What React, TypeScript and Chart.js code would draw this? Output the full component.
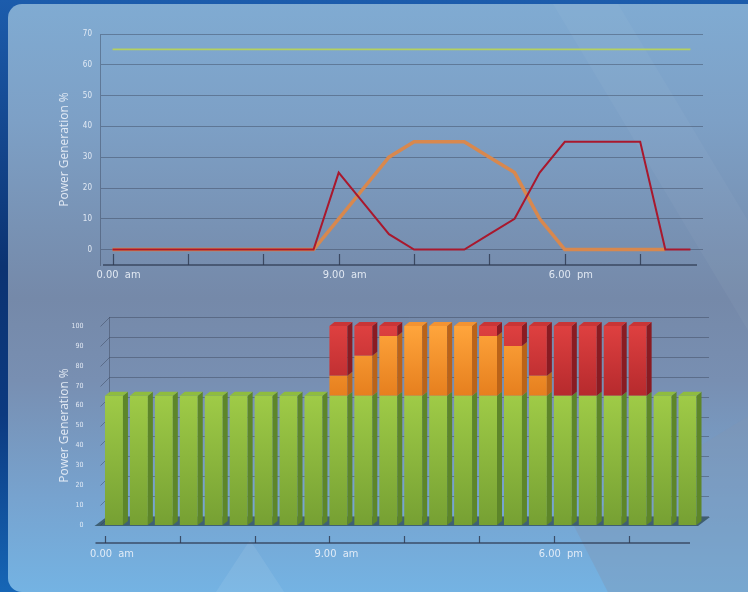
import React, { useEffect, useRef } from "react";
import { Chart, registerables } from "chart.js";

Chart.register(...registerables);

// ---------- data ----------
const hours = [0, 1, 2, 3, 4, 5, 6, 7, 8, 9, 10, 11, 12, 13, 14, 15, 16, 17, 18, 19, 20, 21, 22, 23];
const axisTickHours = [0, 3, 6, 9, 12, 15, 18, 21];
const labelHours = [0, 9, 18];
const hourLabels = ["0.00  am", "9.00  am", "6.00  pm"];
const lineYTicks = [0, 10, 20, 30, 40, 50, 60, 70];
const barYTicks = [0, 10, 20, 30, 40, 50, 60, 70, 80, 90, 100];
const yTitle = "Power Generation %";

const baseLine = [65, 65, 65, 65, 65, 65, 65, 65, 65, 65, 65, 65, 65, 65, 65, 65, 65, 65, 65, 65, 65, 65, 65, 65];
const solarLine = [0, 0, 0, 0, 0, 0, 0, 0, 0, 10, 20, 30, 35, 35, 35, 30, 25, 10, 0, 0, 0, 0, 0, null];
const windLine = [0, 0, 0, 0, 0, 0, 0, 0, 0, 25, 15, 5, 0, 0, 0, 5, 10, 25, 35, 35, 35, 35, 0, 0];

const baseBars = [65, 65, 65, 65, 65, 65, 65, 65, 65, 65, 65, 65, 65, 65, 65, 65, 65, 65, 65, 65, 65, 65, 65, 65];
const solarBars = [0, 0, 0, 0, 0, 0, 0, 0, 0, 10, 20, 30, 35, 35, 35, 30, 25, 10, 0, 0, 0, 0, 0, 0];
const windBars = [0, 0, 0, 0, 0, 0, 0, 0, 0, 25, 15, 5, 0, 0, 0, 5, 10, 25, 35, 35, 35, 35, 0, 0];

// ---------- style ----------
const TEXT = "rgba(236,242,250,0.9)";
const GRID = "rgba(52,62,84,0.42)";
const AXIS = "rgba(48,60,84,0.85)";
const NARROW = "'Liberation Sans Narrow', 'DejaVu Sans Condensed', sans-serif";
const SANS = "'Open Sans', 'Noto Sans', sans-serif";

const faces = [
  { stops: [[0, "#aad44f"], [0.35, "#9fcb47"], [1, "#76a033"]], side: "#5d8629", top: "#8fbc3f" },
  { stops: [[0, "#ffa53c"], [0.35, "#e67f1e"], [1, "#d87018"]], side: "#bb6318", top: "#f39332" },
  { stops: [[0, "#de4040"], [0.35, "#b62a2d"], [1, "#a82428"]], side: "#8a1b22", top: "#c93536" },
];

const BAR_DX = 5;
const BAR_DY = -4;
const WALL_DX = 9;
const WALL_DY = -9;

function labelFor(v: number) {
  const k = labelHours.indexOf(Number(v));
  return k >= 0 ? hourLabels[k] : "";
}

const lineAxisPlugin = {
  id: "lineAxis",
  afterDraw(chart: any) {
    const { ctx, chartArea } = chart;
    const xs = chart.scales.x;
    const y = chartArea.bottom;
    ctx.save();
    ctx.strokeStyle = AXIS;
    ctx.lineWidth = 1.5;
    ctx.beginPath();
    ctx.moveTo(chartArea.left + 3, y);
    ctx.lineTo(chartArea.right - 6, y);
    ctx.stroke();
    ctx.lineWidth = 1.2;
    axisTickHours.forEach((h) => {
      const px = Math.round(xs.getPixelForValue(h)) + 0.5;
      ctx.beginPath();
      ctx.moveTo(px, y);
      ctx.lineTo(px, y - 11);
      ctx.stroke();
    });
    ctx.restore();
  },
};

const wallPlugin = {
  id: "wall3d",
  beforeDatasetsDraw(chart: any) {
    const { ctx, chartArea } = chart;
    const ys = chart.scales.y;
    const y0 = ys.getPixelForValue(0);
    ctx.save();
    // floor
    ctx.fillStyle = "rgba(44,72,84,0.75)";
    ctx.beginPath();
    ctx.moveTo(chartArea.left - 7, y0 + 1);
    ctx.lineTo(chartArea.right - 2, y0 + 1);
    ctx.lineTo(chartArea.right - 2 + WALL_DX + 3, y0 + 1 + WALL_DY);
    ctx.lineTo(chartArea.left - 7 + WALL_DX + 3, y0 + 1 + WALL_DY);
    ctx.closePath();
    ctx.fill();
    // back wall grid
    ctx.strokeStyle = GRID;
    ctx.lineWidth = 1;
    const lx = chartArea.left - 1;
    barYTicks.forEach((v) => {
      const y = Math.round(ys.getPixelForValue(v)) + 0.5;
      ctx.beginPath();
      ctx.moveTo(lx, y);
      ctx.lineTo(lx + WALL_DX, y + WALL_DY);
      ctx.lineTo(chartArea.right + WALL_DX, y + WALL_DY);
      ctx.stroke();
    });
    ctx.beginPath();
    ctx.moveTo(lx + WALL_DX, ys.getPixelForValue(0) + WALL_DY);
    ctx.lineTo(lx + WALL_DX, ys.getPixelForValue(100) + WALL_DY);
    ctx.stroke();
    ctx.restore();
  },
  afterDatasetsDraw(chart: any) {
    const { ctx } = chart;
    const n = chart.data.labels.length;
    const sets = chart.data.datasets;
    ctx.save();
    for (let i = 0; i < n; i++) {
      let topD = -1;
      sets.forEach((ds: any, d: number) => {
        if (ds.data[i] > 0) topD = d;
      });
      sets.forEach((ds: any, d: number) => {
        if (!(ds.data[i] > 0)) return;
        const el = chart.getDatasetMeta(d).data[i];
        const { x, y, base, width } = el.getProps(["x", "y", "base", "width"], true);
        const l = x - width / 2;
        const r = x + width / 2;
        ctx.fillStyle = faces[d].side;
        ctx.beginPath();
        ctx.moveTo(r, y);
        ctx.lineTo(r + BAR_DX, y + BAR_DY);
        ctx.lineTo(r + BAR_DX, base + BAR_DY);
        ctx.lineTo(r, base);
        ctx.closePath();
        ctx.fill();
        if (d === topD) {
          ctx.fillStyle = faces[d].top;
          ctx.beginPath();
          ctx.moveTo(l, y);
          ctx.lineTo(l + BAR_DX, y + BAR_DY);
          ctx.lineTo(r + BAR_DX, y + BAR_DY);
          ctx.lineTo(r, y);
          ctx.closePath();
          ctx.fill();
        }
      });
    }
    ctx.restore();
  },
  afterDraw(chart: any) {
    const { ctx, chartArea } = chart;
    const xs = chart.scales.x;
    const y = chartArea.bottom + 18;
    const shift = -9;
    ctx.save();
    ctx.strokeStyle = AXIS;
    ctx.lineWidth = 1.5;
    ctx.beginPath();
    ctx.moveTo(chartArea.left - 6, y);
    ctx.lineTo(chartArea.right - 10, y);
    ctx.stroke();
    ctx.lineWidth = 1.2;
    axisTickHours.forEach((h) => {
      const px = Math.round(xs.getPixelForValue(h) + shift) + 0.5;
      ctx.beginPath();
      ctx.moveTo(px, y);
      ctx.lineTo(px, y - 7);
      ctx.stroke();
    });
    ctx.restore();
  },
};

function gradientFor(d: number) {
  return (c: any) => {
    const area = c.chart.chartArea;
    if (!area) return faces[d].stops[0][1];
    const g = c.chart.ctx.createLinearGradient(0, area.top, 0, area.bottom);
    faces[d].stops.forEach((s: any) => g.addColorStop(s[0], s[1]));
    return g;
  };
}

export default function App() {
  const lineRef = useRef<HTMLCanvasElement>(null);
  const barRef = useRef<HTMLCanvasElement>(null);

  useEffect(() => {
    const lineChart = new Chart(lineRef.current as HTMLCanvasElement, {
      type: "line",
      data: {
        datasets: [
          {
            label: "Wind",
            data: hours.map((h, i) => ({ x: h, y: windLine[i] })),
            borderColor: "#a9182d",
            borderWidth: 2,
            pointRadius: 0,
            tension: 0,
          },
          {
            label: "Solar",
            data: hours.map((h, i) => ({ x: h, y: solarLine[i] })),
            borderColor: "#d8884e",
            borderWidth: 3.5,
            pointRadius: 0,
            tension: 0,
          },
          {
            label: "Base",
            data: hours.map((h, i) => ({ x: h, y: baseLine[i] })),
            borderColor: "#b4d061",
            borderWidth: 1.6,
            pointRadius: 0,
            tension: 0,
          },
        ],
      } as any,
      options: {
        animation: false,
        responsive: false,
        layout: { padding: { top: 34, left: 0, right: 45, bottom: 0 } },
        plugins: { legend: { display: false }, tooltip: { enabled: false } },
        scales: {
          x: {
            type: "linear",
            min: -0.5,
            max: 23.5,
            afterBuildTicks: (s: any) => {
              s.ticks = labelHours.map((v) => ({ value: v }));
            },
            afterFit: (s: any) => {
              s.height = 25;
            },
            grid: { display: false },
            border: { display: false },
            ticks: {
              callback: (v: any) => labelFor(v),
              color: TEXT,
              font: { family: NARROW, size: 11 },
              padding: -4,
              labelOffset: 6,
              maxRotation: 0,
              autoSkip: false,
            },
          },
          y: {
            min: -5,
            max: 70,
            afterBuildTicks: (s: any) => {
              s.ticks = lineYTicks.map((v) => ({ value: v }));
            },
            afterFit: (s: any) => {
              s.width = 100;
            },
            grid: { color: GRID, drawTicks: false },
            border: { display: true, color: GRID },
            ticks: {
              color: TEXT,
              font: { family: NARROW, size: 8 },
              padding: 8,
            },
            title: {
              display: true,
              text: yTitle,
              color: TEXT,
              font: { family: SANS, size: 12 },
              padding: { top: 57, bottom: 0 },
            },
          },
        },
      } as any,
      plugins: [lineAxisPlugin],
    });

    const barChart = new Chart(barRef.current as HTMLCanvasElement, {
      type: "bar",
      data: {
        labels: hours.map((h) => String(h)),
        datasets: [
          { label: "Base", data: baseBars, backgroundColor: gradientFor(0) },
          { label: "Solar", data: solarBars, backgroundColor: gradientFor(1) },
          { label: "Wind", data: windBars, backgroundColor: gradientFor(2) },
        ],
      } as any,
      options: {
        animation: false,
        responsive: false,
        layout: { padding: { top: 36, left: 0, right: 48, bottom: 0 } },
        datasets: { bar: { categoryPercentage: 1, barPercentage: 0.72, borderWidth: 0 } },
        plugins: { legend: { display: false }, tooltip: { enabled: false } },
        scales: {
          x: {
            stacked: true,
            afterBuildTicks: (s: any) => {
              s.ticks = labelHours.map((v) => ({ value: v }));
            },
            afterFit: (s: any) => {
              s.height = 67;
            },
            grid: { display: false },
            border: { display: false },
            ticks: {
              callback: (v: any) => labelFor(v),
              color: TEXT,
              font: { family: NARROW, size: 11 },
              padding: 15,
              labelOffset: -2,
              maxRotation: 0,
              autoSkip: false,
            },
          },
          y: {
            stacked: true,
            min: 0,
            max: 100,
            afterBuildTicks: (s: any) => {
              s.ticks = barYTicks.map((v) => ({ value: v }));
            },
            afterFit: (s: any) => {
              s.width = 101.5;
            },
            grid: { display: false },
            border: { display: false },
            ticks: {
              color: TEXT,
              font: { family: NARROW, size: 7 },
              padding: 10,
            },
            title: {
              display: true,
              text: yTitle,
              color: TEXT,
              font: { family: SANS, size: 12 },
              padding: { top: 57, bottom: 0 },
            },
          },
        },
      } as any,
      plugins: [wallPlugin],
    });

    return () => {
      lineChart.destroy();
      barChart.destroy();
    };
  }, []);

  return (
    <div
      style={{
        position: "absolute",
        left: 0,
        top: 0,
        width: 748,
        height: 592,
        overflow: "hidden",
        background: "linear-gradient(180deg,#1c5cac 0%,#0c3372 45%,#0c3a80 70%,#1666b6 100%)",
      }}
    >
      <div
        style={{
          position: "absolute",
          left: 8,
          top: 4,
          width: 760,
          height: 588,
          borderRadius: 14,
          overflow: "hidden",
          background:
            "linear-gradient(180deg,#80abd2 0%,#7da0c6 20%,#7892b4 38%,#7589a9 50%,#788fb2 64%,#77a3cf 84%,#74b3e3 100%)",
        }}
      >
        <div
          style={{
            position: "absolute",
            inset: 0,
            background: "rgba(255,255,255,0.035)",
            clipPath: "polygon(545px 0px, 610px 0px, 760px 250px, 760px 360px)",
          }}
        />
        <div
          style={{
            position: "absolute",
            inset: 0,
            background: "rgba(255,255,255,0.08)",
            clipPath: "polygon(242px 536px, 200px 600px, 284px 600px)",
          }}
        />
        <div
          style={{
            position: "absolute",
            inset: 0,
            background: "rgba(128,150,180,0.4)",
            clipPath: "polygon(565px 520px, 760px 400px, 760px 600px, 606px 600px)",
          }}
        />
      </div>
      <canvas
        ref={lineRef}
        width={748}
        height={290}
        style={{ position: "absolute", left: 0, top: 0, width: 748, height: 290 }}
      />
      <canvas
        ref={barRef}
        width={748}
        height={302}
        style={{ position: "absolute", left: 0, top: 290, width: 748, height: 302 }}
      />
    </div>
  );
}
